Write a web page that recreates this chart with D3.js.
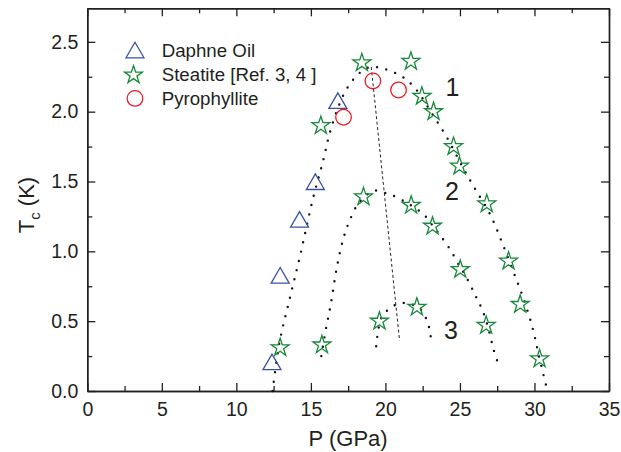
<!DOCTYPE html>
<html>
<head>
<meta charset="utf-8">
<script src="https://cdn.jsdelivr.net/npm/d3@7"></script>
<style>
    body { margin: 0; background: #fff; }
    text { font-family: "Liberation Sans", Arial, sans-serif; fill: #231f20; }
</style>
</head>
<body>
<svg id="chart" width="621" height="452"></svg>
<script>
// values: [P (GPa), Tc (K)]
let daphneOil = [[12.39, 0.19], [12.94, 0.81], [14.24, 1.21], [15.3, 1.48], [16.81, 2.06]]
let steatite = [
    [12.94, 0.31], [15.74, 0.33], [15.67, 1.9], [18.42, 2.35], [21.71, 2.36],
    [22.45, 2.11], [23.23, 2.0], [24.57, 1.75], [24.97, 1.61], [26.8, 1.34],
    [18.53, 1.39], [21.73, 1.33], [23.16, 1.18], [25.02, 0.87], [28.26, 0.93],
    [22.11, 0.6], [19.6, 0.5], [29.04, 0.62], [26.76, 0.47], [30.34, 0.23]
]
let pyrophyllite = [[17.19, 1.96], [19.16, 2.22], [20.88, 2.155]]

// dotted guide curves
let curve1 = [
    [12.43, 0], [12.9, 0.35], [13.6, 0.67], [14.3, 0.98], [15.1, 1.36], [15.8, 1.64],
    [16.3, 1.86], [16.9, 2.05], [17.5, 2.18], [18.3, 2.28], [19.0, 2.32], [19.8, 2.31],
    [20.6, 2.28], [21.4, 2.23], [22.2, 2.14], [23.1, 1.99], [24.1, 1.82], [25.2, 1.6],
    [26.0, 1.45], [27.0, 1.27], [27.8, 1.07], [28.6, 0.85], [29.3, 0.65], [29.9, 0.44],
    [30.3, 0.25], [30.8, 0.03]
]
let curve2 = [
    [15.7, 0.25], [16.0, 0.44], [16.3, 0.6], [16.75, 0.89], [17.2, 1.1], [17.6, 1.22],
    [18.1, 1.33], [18.6, 1.39], [19.25, 1.435], [19.9, 1.42], [20.5, 1.4], [21.7, 1.33],
    [22.6, 1.26], [23.2, 1.18], [23.7, 1.11], [24.3, 1.02], [25.0, 0.89], [25.4, 0.82],
    [26.1, 0.67], [26.5, 0.58], [26.9, 0.45], [27.25, 0.3], [27.55, 0.2]
]
let curve3 = [
    [19.38, 0.32], [19.5, 0.42], [19.76, 0.53], [20.4, 0.6], [21.1, 0.63], [21.8, 0.62],
    [22.4, 0.58], [22.8, 0.5], [23.0, 0.42], [23.07, 0.35]
]
let dashedLine = [[19.05, 2.32], [20.95, 0.36]]

let curveLabels = ['1', '2', '3']
let curveLabelPos = [[24.5, 2.18], [24.46, 1.43], [24.4, 0.44]]

let xTicks = [0, 5, 10, 15, 20, 25, 30, 35]
let xMinorTicks = [2.5, 7.5, 12.5, 17.5, 22.5, 27.5, 32.5]
let yTicks = [0, 0.5, 1.0, 1.5, 2.0, 2.5]
let yMinorTicks = [0.25, 0.75, 1.25, 1.75, 2.25]

let legendNames = ['Daphne Oil', 'Steatite [Ref. 3, 4 ]', 'Pyrophyllite']

let colors = { tri: '#3953a4', star: '#17893a', circ: '#ed1c24' }

let svg = d3.select('#chart')
let plotLeft = 87.3, plotRight = 609, plotTop = 8.3, plotBottom = 391

let x = d3.scaleLinear().domain([0, 35]).range([plotLeft, plotRight])
let y = d3.scaleLinear().domain([0, 2.74]).range([plotBottom, plotTop])

function drawAxis(axis, transform, labels) {
    let g = svg.append('g').attr('transform', transform).call(axis)
    g.select('.domain').attr('stroke', '#231f20').attr('stroke-width', 1.4)
    g.selectAll('.tick line').attr('stroke', '#231f20').attr('stroke-width', 1.3)
    g.selectAll('.tick text').style('font-size', '19.5px').attr('fill', '#231f20')
        .style('font-family', '"Liberation Sans", Arial, sans-serif')
    if (!labels) g.selectAll('.tick text').remove()
    return g
}

// major and minor ticks on all four sides, pointing inward
drawAxis(d3.axisBottom(x).tickValues(xTicks).tickSize(-8).tickSizeOuter(0).tickPadding(11),
    `translate(0,${plotBottom})`, true)
drawAxis(d3.axisBottom(x).tickValues(xMinorTicks).tickSize(-5).tickSizeOuter(0).tickFormat(''),
    `translate(0,${plotBottom})`, false)
drawAxis(d3.axisTop(x).tickValues(xTicks).tickSize(-8).tickSizeOuter(0),
    `translate(0,${plotTop})`, false)
drawAxis(d3.axisTop(x).tickValues(xMinorTicks).tickSize(-5).tickSizeOuter(0),
    `translate(0,${plotTop})`, false)
drawAxis(d3.axisLeft(y).tickValues(yTicks).tickSize(-8).tickSizeOuter(0).tickPadding(9)
    .tickFormat(d3.format('.1f')), `translate(${plotLeft},0)`, true)
drawAxis(d3.axisLeft(y).tickValues(yMinorTicks).tickSize(-5).tickSizeOuter(0),
    `translate(${plotLeft},0)`, false)
drawAxis(d3.axisRight(y).tickValues(yTicks).tickSize(-8).tickSizeOuter(0),
    `translate(${plotRight},0)`, false)
drawAxis(d3.axisRight(y).tickValues(yMinorTicks).tickSize(-5).tickSizeOuter(0),
    `translate(${plotRight},0)`, false)

// axis titles
svg.append('text')
    .attr('x', (plotLeft + plotRight) / 2).attr('y', 446)
    .attr('text-anchor', 'middle')
    .style('font-size', '22px')
    .text('P (GPa)')

let yTitle = svg.append('text')
    .attr('transform', `translate(34,205) rotate(-90)`)
    .attr('text-anchor', 'middle')
    .style('font-size', '22px')
yTitle.append('tspan').text('T')
yTitle.append('tspan').attr('dy', 6).style('font-size', '15px').text('c')
yTitle.append('tspan').attr('dy', -6).text(' (K)')

// dotted guide curves and dashed line
let line = d3.line().x(d => x(d[0])).y(d => y(d[1])).curve(d3.curveCatmullRom)

svg.selectAll('path.guide')
    .data([curve1, curve2, curve3])
    .enter().append('path')
    .attr('class', 'guide')
    .attr('d', line)
    .attr('fill', 'none')
    .attr('stroke', '#111')
    .attr('stroke-width', 2.4)
    .attr('stroke-linecap', 'round')
    .attr('stroke-dasharray', '0,9.5')

svg.append('path')
    .attr('d', d3.line().x(d => x(d[0])).y(d => y(d[1]))(dashedLine))
    .attr('fill', 'none')
    .attr('stroke', '#222')
    .attr('stroke-width', 1)
    .attr('stroke-dasharray', '3,2.5')

svg.selectAll('text.curveLabel')
    .data(curveLabels)
    .enter().append('text')
    .attr('class', 'curveLabel')
    .attr('x', (d, i) => x(curveLabelPos[i][0]))
    .attr('y', (d, i) => y(curveLabelPos[i][1]) + 9)
    .attr('text-anchor', 'middle')
    .style('font-size', '25px')
    .text(d => d)

// markers
let triangle = d3.symbol().type(d3.symbolTriangle).size(140)
let star = d3.symbol().type(d3.symbolStar).size(100)

function drawSymbols(data, sym, color) {
    svg.append('g').selectAll('path')
        .data(data)
        .enter().append('path')
        .attr('transform', d => `translate(${x(d[0])},${y(d[1])})`)
        .attr('d', sym)
        .attr('fill', 'none')
        .attr('stroke', color)
        .attr('stroke-width', 1.3)
}

drawSymbols(daphneOil, triangle, colors.tri)
drawSymbols(steatite, star, colors.star)

svg.append('g').selectAll('circle')
    .data(pyrophyllite)
    .enter().append('circle')
    .attr('cx', d => x(d[0]))
    .attr('cy', d => y(d[1]))
    .attr('r', 7.8)
    .attr('fill', 'none')
    .attr('stroke', colors.circ)
    .attr('stroke-width', 1.3)

// legend
let legend = svg.append('g').attr('transform', 'translate(135,50)')
let rowGap = 24.2
legend.append('path').attr('transform', 'translate(0,2.6)').attr('d', triangle)
    .attr('fill', 'none').attr('stroke', colors.tri).attr('stroke-width', 1.3)
legend.append('path').attr('transform', `translate(-1.5,${rowGap + 0.8})`).attr('d', star)
    .attr('fill', 'none').attr('stroke', colors.star).attr('stroke-width', 1.3)
legend.append('circle').attr('cx', 0).attr('cy', rowGap * 2).attr('r', 7.8)
    .attr('fill', 'none').attr('stroke', colors.circ).attr('stroke-width', 1.3)

legend.selectAll('text')
    .data(legendNames)
    .enter().append('text')
    .attr('x', 26.7)
    .attr('y', (d, i) => i * rowGap + 7)
    .style('font-size', '18.7px')
    .text(d => d)
</script>
</body>
</html>
